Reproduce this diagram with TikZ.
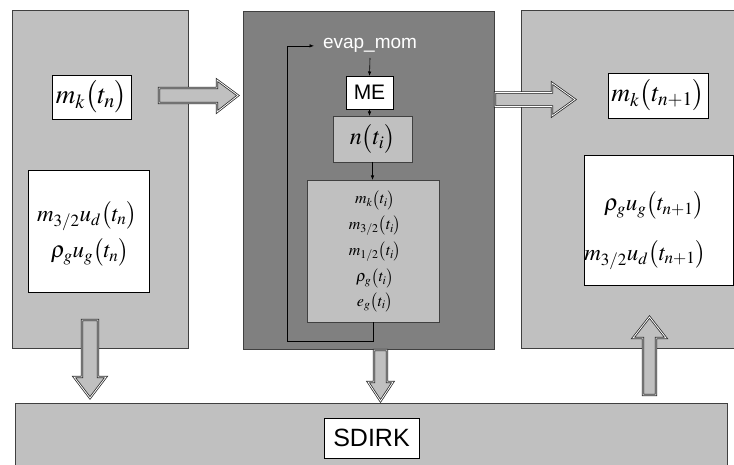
\documentclass[tikz,border=0pt]{standalone}
\usepackage[no-math]{fontspec}
\setsansfont{Liberation Sans}
\usepackage{mathptmx}
\usetikzlibrary{arrows.meta}
\definecolor{lg}{HTML}{C0C0C0}
\definecolor{dg}{HTML}{808080}
\definecolor{bd}{HTML}{404040}
\newcommand{\fsz}[1]{\fontsize{#1}{#1}\selectfont}
\tikzset{
  panel/.style={draw=bd, line width=0.8pt, fill=lg, inner sep=0pt, outer sep=0pt},
  darkpanel/.style={panel, fill=dg},
  whitebox/.style={draw=black, line width=0.6pt, fill=white, inner sep=0pt, outer sep=0pt},
  graybox/.style={draw=bd, line width=0.6pt, fill=lg, inner sep=0pt, outer sep=0pt},
  blockarrow/.style={draw=black!85, line width=0.75pt, double=white, double distance=0.8pt, fill=lg},
  conn/.style={draw=black, line width=0.6pt, -{Latex[length=4.5pt,width=3.5pt]}},
  mtext/.style={inner sep=0pt, outer sep=0pt},
}
\begin{document}
\begin{tikzpicture}[x=1pt,y=-1pt]
\useasboundingbox (0,0) rectangle (734,465);
\clip (0,0) rectangle (734,465);

% panels
\node[panel, minimum width=176pt, minimum height=338pt] (left) at (100,179) {};
\node[darkpanel, minimum width=251pt, minimum height=338pt] (mid) at (368.5,180) {};
\node[panel, minimum width=219pt, minimum height=338pt] (right) at (630.5,179) {};
\node[panel, minimum width=712pt, minimum height=72pt] (sdpanel) at (371,439) {};

% left panel content
\node[whitebox, minimum width=79pt, minimum height=44pt] (mkn) at (91.5,97) {\fsz{27}$m_k\bigl(t_n\bigr)$};
\node[whitebox, minimum width=121pt, minimum height=122pt] (lbox) at (88.5,231) {};
\node[mtext] (l1) at (87,216) {\fsz{23}$m_{3/2}u_d\bigl(t_n\bigr)$};
\node[mtext] (l2) at (90,252) {\fsz{23}$\rho_g u_g\bigl(t_n\bigr)$};

% middle panel content
\node[mtext, text=white, font=\sffamily\fsz{19}, anchor=base] (evap) at (370,49) {evap\_mom};
\node[whitebox, minimum width=47pt, minimum height=33pt, font=\sffamily\fsz{21}] (me) at (369.5,92.5) {ME};
\node[graybox, minimum width=79pt, minimum height=46pt] (nt) at (372.5,139) {\fsz{24}$n\bigl(t_i\bigr)$};
\node[graybox, minimum width=132pt, minimum height=142pt] (big) at (373,251) {};
\node[mtext] (b1) at (375,200) {\fsz{16}$m_k\bigl(t_i\bigr)$};
\node[mtext] (b2) at (375,226) {\fsz{16}$m_{3/2}\bigl(t_i\bigr)$};
\node[mtext] (b3) at (375,252) {\fsz{16}$m_{1/2}\bigl(t_i\bigr)$};
\node[mtext] (b4) at (375,278) {\fsz{16}$\rho_g\bigl(t_i\bigr)$};
\node[mtext] (b5) at (375,302) {\fsz{16}$e_g\bigl(t_i\bigr)$};

\draw[conn] (370,58) -- (me.north);
\draw[conn] (me.south) -- (me.south |- nt.north);
\draw[conn] (nt.south) -- (nt.south |- big.north);
\coordinate (loopL) at (287,341);
\draw[conn] (big.south) |- (loopL) |- ([xshift=-9pt]evap.west);

% right panel content
\node[whitebox, minimum width=100pt, minimum height=45pt] (mkn1) at (658,95.5) {\fsz{26}$m_k\bigl(t_{n+1}\bigr)$};
\node[whitebox, minimum width=149pt, minimum height=130pt] (rbox) at (658.5,220) {};
\node[mtext, anchor=east] (r1) at (704,205) {\fsz{23}$\rho_g u_g\bigl(t_{n+1}\bigr)$};
\node[mtext, anchor=east] (r2) at (706,255) {\fsz{23}$m_{3/2}u_d\bigl(t_{n+1}\bigr)$};

% SDIRK
\node[whitebox, minimum width=95pt, minimum height=40pt, font=\sffamily\fsz{25}] (sdirk) at (371.5,438) {SDIRK};

% block arrows
\draw[blockarrow] (159,88) -- (217,88) -- (217,80) -- (238,95.5) -- (217,112) -- (217,103) -- (159,103) -- cycle;
\draw[blockarrow] (495,92.5) -- (552,92.5) -- (552,83) -- (575,99.5) -- (552,116) -- (552,106.5) -- (495,106.5) -- cycle;
\draw[blockarrow] (82,320) -- (98,320) -- (98,377) -- (106,377) -- (90,398) -- (74,377) -- (82,377) -- cycle;
\draw[blockarrow] (374,350) -- (387,350) -- (387,382) -- (393,382) -- (380.5,401) -- (368,382) -- (374,382) -- cycle;
\draw[blockarrow] (643,395) -- (656,395) -- (656,338) -- (666,338) -- (649.5,317) -- (633,338) -- (643,338) -- cycle;
\end{tikzpicture}
\end{document}
